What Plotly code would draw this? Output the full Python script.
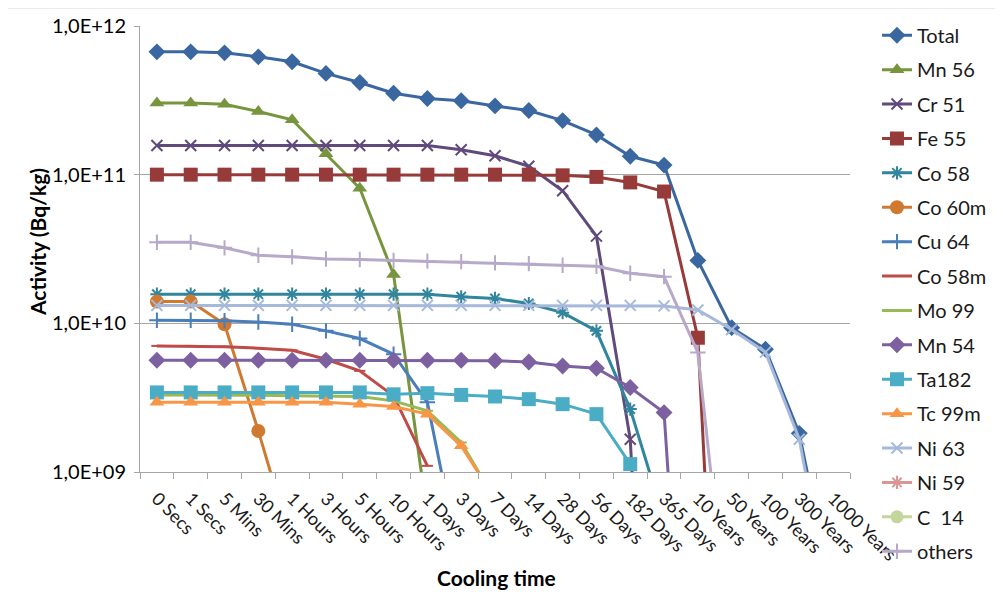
import plotly.graph_objects as go

categories = ["0 Secs", "1 Secs", "5 Mins", "30 Mins", "1 Hours", "3 Hours", "5 Hours",
              "10 Hours", "1 Days", "3 Days", "7 Days", "14 Days", "28 Days", "56 Days",
              "182 Days", "365 Days", "10 Years", "50 Years", "100 Years", "300 Years",
              "1000 Years"]

total = [6.7e11, 6.7e11, 6.6e11, 6.2e11, 5.75e11, 4.8e11, 4.17e11, 3.53e11, 3.25e11, 3.14e11,
         2.9e11, 2.7e11, 2.31e11, 1.85e11, 1.33e11, 1.16e11, 2.65e10, 9.35e9, 6.7e9, 1.82e9, 1.4e8]
mn56 = [3.03e11, 3.03e11, 2.98e11, 2.66e11, 2.34e11, 1.38e11, 8.1e10, 2.13e10, 5.1e8, None,
        None, None, None, None, None, None, None, None, None, None, None]
cr51 = [1.57e11, 1.57e11, 1.57e11, 1.57e11, 1.57e11, 1.57e11, 1.57e11, 1.57e11, 1.57e11, 1.47e11,
        1.34e11, 1.14e11, 7.8e10, 3.86e10, 1.66e9, 1.0e5, None, None, None, None, None]
fe55 = [1.0e11, 1.0e11, 1.0e11, 1.0e11, 1.0e11, 1.0e11, 1.0e11, 1.0e11, 1.0e11, 1.0e11,
        1.0e11, 1.0e11, 9.9e10, 9.66e10, 8.87e10, 7.7e10, 8.0e9, 3.0e5, None, None, None]
co58 = [1.57e10, 1.57e10, 1.57e10, 1.57e10, 1.57e10, 1.57e10, 1.57e10, 1.57e10, 1.57e10, 1.51e10,
        1.47e10, 1.36e10, 1.18e10, 8.9e9, 2.65e9, 4.8e8, None, None, None, None, None]
co60m = [1.40e10, 1.40e10, 9.85e9, 1.89e9, 3.2e8, None, None, None, None, None,
         None, None, None, None, None, None, None, None, None, None, None]
cu64 = [1.05e10, 1.05e10, 1.04e10, 1.02e10, 9.85e9, 8.9e9, 7.9e9, 6.2e9, 2.94e9, 2.2e8,
        None, None, None, None, None, None, None, None, None, None, None]
co58m = [7.05e9, 7.05e9, 6.97e9, 6.8e9, 6.59e9, 5.73e9, 4.79e9, 3.25e9, 1.10e9, None,
         None, None, None, None, None, None, None, None, None, None, None]
mo99 = [3.30e9, 3.30e9, 3.30e9, 3.28e9, 3.26e9, 3.24e9, 3.22e9, 3.01e9, 2.58e9, 1.58e9,
        6.5e8, None, None, None, None, None, None, None, None, None, None]
mn54 = [5.65e9, 5.65e9, 5.65e9, 5.65e9, 5.65e9, 5.65e9, 5.65e9, 5.65e9, 5.65e9, 5.65e9,
        5.6e9, 5.5e9, 5.16e9, 4.99e9, 3.70e9, 2.51e9, 1.0e6, None, None, None, None]
ta182 = [3.43e9, 3.43e9, 3.43e9, 3.43e9, 3.43e9, 3.43e9, 3.43e9, 3.33e9, 3.39e9, 3.30e9,
         3.22e9, 3.09e9, 2.86e9, 2.45e9, 1.13e9, None, None, None, None, None, None]
tc99m = [2.94e9, 2.94e9, 2.94e9, 2.94e9, 2.94e9, 2.94e9, 2.86e9, 2.76e9, 2.45e9, 1.50e9,
         6.6e8, None, None, None, None, None, None, None, None, None, None]
ni63 = [1.32e10, 1.32e10, 1.32e10, 1.32e10, 1.32e10, 1.32e10, 1.32e10, 1.32e10, 1.32e10, 1.32e10,
        1.32e10, 1.32e10, 1.32e10, 1.32e10, 1.32e10, 1.31e10, 1.23e10, 9.1e9, 6.4e9, 1.66e9, 1.0e8]
ni59 = [3.0e7, 3.0e7, 3.0e7, 3.0e7, 3.0e7, 3.0e7, 3.0e7, 3.0e7, 3.0e7, 3.0e7,
        3.0e7, 3.0e7, 3.0e7, 3.0e7, 3.0e7, 3.0e7, 3.0e7, 2.9e7, 2.9e7, 2.8e7, 2.6e7]
c14 = [5.0e6, 5.0e6, 5.0e6, 5.0e6, 5.0e6, 5.0e6, 5.0e6, 5.0e6, 5.0e6, 5.0e6,
       5.0e6, 5.0e6, 5.0e6, 5.0e6, 5.0e6, 5.0e6, 5.0e6, 5.0e6, 4.9e6, 4.8e6, 4.4e6]
others = [3.51e10, 3.51e10, 3.22e10, 2.87e10, 2.80e10, 2.71e10, 2.69e10, 2.65e10, 2.62e10, 2.6e10,
          2.55e10, 2.52e10, 2.46e10, 2.42e10, 2.17e10, 2.06e10, 6.36e9, 5.0e7, None, None, None]

y_tickvals = [1e9, 1e10, 1e11, 1e12]
y_ticktext = ["1,0E+09", "1,0E+10", "1,0E+11", "1,0E+12"]

series = [
    ("Total", total), ("Mn 56", mn56), ("Cr 51", cr51), ("Fe 55", fe55), ("Co 58", co58),
    ("Co 60m", co60m), ("Cu 64", cu64), ("Co 58m", co58m), ("Mo 99", mo99), ("Mn 54", mn54),
    ("Ta182", ta182), ("Tc 99m", tc99m), ("Ni 63", ni63), ("Ni 59", ni59), ("C  14", c14),
    ("others", others),
]

# styles: color, symbol, size, filled
styles = {
    "Total": ("#3A67A0", "diamond", 13, True),
    "Mn 56": ("#77953D", "triangle-up", 13, True),
    "Cr 51": ("#604A7B", "x-thin-open", 11, False),
    "Fe 55": ("#963B39", "square", 14, True),
    "Co 58": ("#31859C", "asterisk-open", 11, False),
    "Co 60m": ("#CF7A30", "circle", 14, True),
    "Cu 64": ("#4A7EBB", "cross-thin-open", 11, False),
    "Co 58m": ("#BE4B48", "line-ew-open", 8, False),
    "Mo 99": ("#98B954", "line-ew-open", 8, False),
    "Mn 54": ("#7D60A0", "diamond", 13, True),
    "Ta182": ("#4BACC6", "square", 14, True),
    "Tc 99m": ("#F79646", "triangle-up", 13, True),
    "Ni 63": ("#A7B9DA", "x-thin-open", 11, False),
    "Ni 59": ("#D99694", "asterisk-open", 11, False),
    "C  14": ("#C3D69B", "circle", 13, True),
    "others": ("#B7A9C9", "cross-thin-open", 11, False),
}

fig = go.Figure()
for name, vals in series:
    color, sym, size, filled = styles[name]
    marker = dict(symbol=sym, size=size, color=color,
                  line=dict(color=color, width=2 if not filled else 0))
    fig.add_trace(go.Scatter(
        x=categories, y=vals, name=name, mode="lines+markers",
        line=dict(color=color, width=3), marker=marker,
        legendgroup=name, connectgaps=False,
    ))

# The page body has an 8px margin, so the figure is drawn 8px smaller / offset.
OFF = 8
W, H = 1003 - OFF, 592 - OFF
L, T = 140 - OFF, 26 - OFF
PW, PH = 710, 446
R = W - L - PW
B = H - T - PH

font_family = "Lato"
fig.update_layout(
    width=W, height=H,
    margin=dict(l=L, r=R, t=T, b=B, autoexpand=False),
    paper_bgcolor="white", plot_bgcolor="white",
    font=dict(family=font_family, color="#000000"),
    showlegend=True,
    legend=dict(x=1.038, xanchor="left", y=1.023, yanchor="top",
                font=dict(size=20, family=font_family, color="#1a1a1a"),
                tracegroupgap=5.4, traceorder="grouped", maxheight=700,
                bgcolor="rgba(0,0,0,0)"),
    xaxis=dict(type="category", range=[-0.5, 20.5], tickson="boundaries",
               ticks="outside", ticklen=6, tickcolor="#A6A6A6",
               showline=True, linecolor="#A6A6A6", linewidth=1,
               showgrid=False, tickangle=45, ticklabelstandoff=8,
               tickfont=dict(size=18, family=font_family, color="#1a1a1a")),
    yaxis=dict(type="log", range=[9, 12], tickvals=y_tickvals, ticktext=y_ticktext,
               ticks="outside", ticklen=5, tickcolor="#A6A6A6",
               showline=True, linecolor="#A6A6A6", linewidth=1,
               showgrid=True, gridcolor="#A6A6A6", gridwidth=1,
               tickfont=dict(size=20, family=font_family, color="#000000"),
               ticklabelstandoff=4),
    annotations=[
        dict(text="<b>Activity (Bq/kg)</b>", textangle=-90, xref="paper", yref="paper",
             x=(38 - 140) / PW, y=(472 - 242) / PH, showarrow=False,
             font=dict(size=21, family=font_family), xanchor="center", yanchor="middle"),
        dict(text="<b>Cooling time</b>", xref="paper", yref="paper",
             x=(496 - 140) / PW, y=-(577 - 472) / PH, showarrow=False,
             font=dict(size=21, family=font_family), xanchor="center", yanchor="middle"),
    ],
    shapes=[
        dict(type="line", xref="paper", yref="paper",
             x0=(6 - 140) / PW, x1=(1003 - 140) / PW,
             y0=1 + (26 - 8) / PH, y1=1 + (26 - 8) / PH,
             line=dict(color="#D9D9D9", width=1)),
    ],
)
fig.update_yaxes(tickprefix="<b>", ticksuffix="</b>")

fig.write_html("out.html")
